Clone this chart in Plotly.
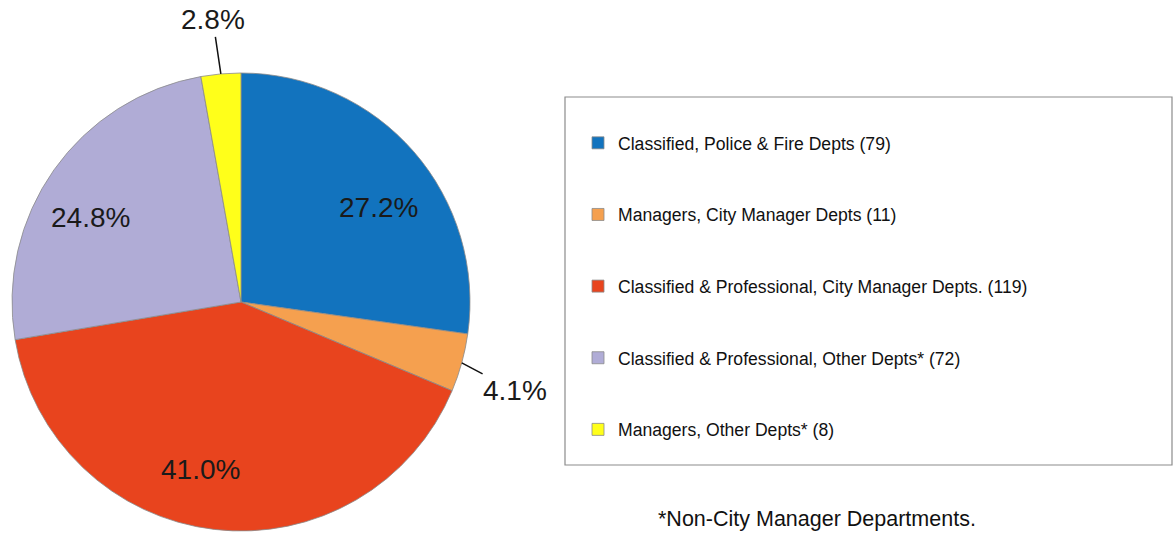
import math
import plotly.graph_objects as go

categories = [
    "Classified, Police & Fire Depts",
    "Managers, City Manager Depts",
    "Classified & Professional, City Manager Depts.",
    "Classified & Professional, Other Depts*",
    "Managers, Other Depts*",
]
counts = [79, 11, 119, 72, 8]
percents = [27.2, 4.1, 41.0, 24.8, 2.8]
colors = ["#1273BE", "#F5A04F", "#E8441E", "#B0ACD6", "#FFFF1A"]
footnote = "*Non-City Manager Departments."

W, H = 1174, 541
CX, CY, R = 241, 302, 229  # pie centre / radius in pixels
dx = [(CX - R) / W, (CX + R) / W]
dy = [1 - (CY + R) / H, 1 - (CY - R) / H]

labels = [f"{c} ({n})" for c, n in zip(categories, counts)]
legend_labels = [f"<br>{l}<br> " for l in labels]

fig = go.Figure(
    go.Pie(
        labels=legend_labels,
        values=percents,
        sort=False,
        direction="clockwise",
        rotation=0,
        marker=dict(colors=colors, line=dict(color="#8a8a8a", width=0.8)),
        textinfo="none",
        domain=dict(x=dx, y=dy),
        hoverinfo="label+value",
    )
)

# label placement style: (kind, angle offset deg / arrow dx, radius frac / arrow dy)
label_style = [
    ("in", 6.5, 0.73),
    ("out", 53, 28),
    ("in", 7.0, 0.755),
    ("in", -6.0, 0.755),
    ("out", -8, -54),
]
total = sum(percents)
cum = 0
lab_font = dict(family="Liberation Sans, Arial", size=28, color="#1a1a1a")
for p, (kind, a, b) in zip(percents, label_style):
    mid = (cum + p / 2) / total * 360
    cum += p
    if kind == "in":
        ang = math.radians(mid + a)
        px_ = CX + b * R * math.sin(ang)
        py_ = CY - b * R * math.cos(ang)
        fig.add_annotation(x=px_ / W, y=1 - py_ / H, xref="paper", yref="paper",
                           text=f"{p:.1f}%", showarrow=False, font=lab_font,
                           xanchor="center", yanchor="middle")
    else:
        ang = math.radians(mid)
        hx = CX + R * math.sin(ang)
        hy = CY - R * math.cos(ang)
        fig.add_annotation(x=hx / W, y=1 - hy / H, xref="paper", yref="paper",
                           text=f"{p:.1f}%", showarrow=True, arrowhead=0, arrowwidth=1.5,
                           arrowcolor="#111111", ax=a, ay=b, font=lab_font)

fig.add_annotation(
    x=817 / W, y=1 - 519 / H, xref="paper", yref="paper", text=footnote,
    xanchor="center", yanchor="middle",
    showarrow=False, font=dict(family="Liberation Sans, Arial", size=21.5, color="#111111"),
)

fig.add_shape(type="rect", xref="paper", yref="paper",
              x0=565 / W, x1=1172 / W, y0=1 - 465 / H, y1=1 - 97 / H,
              line=dict(color="#8c8c8c", width=1.2))

fig.update_layout(
    width=W, height=H,
    margin=dict(l=0, r=0, t=0, b=0),
    paper_bgcolor="white", plot_bgcolor="white",
    showlegend=True,
    legend=dict(
        x=578 / W, y=1 - 102 / H, xanchor="left", yanchor="top",
        font=dict(family="Liberation Sans, Arial", size=17.6, color="#111111"),
        bgcolor="rgba(0,0,0,0)", borderwidth=0,
    ),
)

fig.write_html("out.html", config={"displayModeBar": False},
               post_script="document.body.style.margin='0';")
